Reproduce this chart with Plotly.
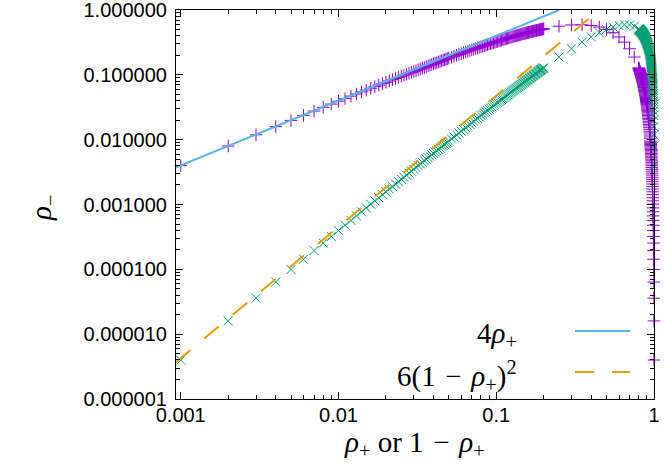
import plotly.graph_objects as go

# rho_+ sampling near the two edges; near rho_+ = 1 the same grid is used for 1 - rho_+
edge_fine = [
    0.001, 0.002, 0.003, 0.004, 0.005, 0.006, 0.007, 0.008, 0.009, 0.010,
    0.011, 0.012, 0.013, 0.014, 0.015, 0.016, 0.017, 0.018, 0.019, 0.020,
    0.021, 0.022, 0.023, 0.024, 0.025, 0.026, 0.027, 0.028, 0.029, 0.030,
    0.031, 0.032, 0.033, 0.034, 0.035, 0.036, 0.037, 0.038, 0.039, 0.040,
    0.041, 0.042, 0.043, 0.044, 0.045, 0.046, 0.047, 0.048, 0.049, 0.050,
]
edge_coarse = [
    0.052, 0.054, 0.056, 0.058, 0.060, 0.062, 0.064, 0.066, 0.068, 0.070,
    0.072, 0.074, 0.076, 0.078, 0.080, 0.082, 0.084, 0.086, 0.088, 0.090,
    0.092, 0.094, 0.096, 0.098, 0.100,
    0.102, 0.104, 0.106, 0.108, 0.110, 0.112, 0.114, 0.116, 0.118, 0.120,
    0.122, 0.124, 0.126, 0.128, 0.130, 0.132, 0.134, 0.136, 0.138, 0.140,
    0.142, 0.144, 0.146, 0.148, 0.150, 0.152, 0.154, 0.156, 0.158, 0.160,
    0.162, 0.164, 0.166, 0.168, 0.170, 0.172, 0.174, 0.176, 0.178, 0.180,
    0.182, 0.184, 0.186, 0.188, 0.190, 0.192, 0.194, 0.196, 0.198, 0.200,
]

# rho_- for small rho_+ (rho_+ = edge grid)
rho_minus_low = [
    0.00399, 0.00797, 0.0119, 0.0159, 0.0198, 0.0237, 0.0276, 0.0315, 0.0354, 0.0392,
    0.0430, 0.0469, 0.0507, 0.0545, 0.0582, 0.0620, 0.0657, 0.0694, 0.0731, 0.0768,
    0.0805, 0.0842, 0.0878, 0.0914, 0.0951, 0.0987, 0.102, 0.106, 0.109, 0.113,
    0.116, 0.120, 0.123, 0.127, 0.130, 0.134, 0.137, 0.141, 0.144, 0.148,
    0.151, 0.154, 0.158, 0.161, 0.164, 0.168, 0.171, 0.174, 0.177, 0.181,
    0.187, 0.193, 0.200, 0.206, 0.212, 0.218, 0.224, 0.230, 0.236, 0.242,
    0.248, 0.254, 0.260, 0.265, 0.271, 0.276, 0.282, 0.287, 0.293, 0.298,
    0.303, 0.309, 0.314, 0.319, 0.324,
    0.329, 0.334, 0.339, 0.344, 0.349, 0.353, 0.358, 0.363, 0.367, 0.372,
    0.376, 0.381, 0.385, 0.389, 0.394, 0.398, 0.402, 0.406, 0.410, 0.414,
    0.418, 0.422, 0.426, 0.430, 0.434, 0.437, 0.441, 0.445, 0.448, 0.452,
    0.455, 0.458, 0.462, 0.465, 0.469, 0.472, 0.475, 0.478, 0.481, 0.484,
    0.487, 0.490, 0.493, 0.496, 0.499, 0.501, 0.504, 0.507, 0.509, 0.512,
]

# coarse middle part
rho_plus_mid = [0.25, 0.30, 0.35, 0.40, 0.45, 0.50, 0.55, 0.60, 0.65, 0.70, 0.75]
rho_minus_mid = [0.562, 0.588, 0.592, 0.576, 0.545, 0.500, 0.446, 0.384, 0.319, 0.252, 0.188]

# rho_- for rho_+ close to 1 (1 - rho_+ = edge grid)
rho_minus_high = [
    3.99e-6, 1.60e-5, 3.59e-5, 6.37e-5, 9.95e-5, 1.43e-4, 1.95e-4, 2.54e-4, 3.21e-4, 3.96e-4,
    4.79e-4, 5.69e-4, 6.67e-4, 7.73e-4, 8.87e-4, 1.01e-3, 1.14e-3, 1.27e-3, 1.42e-3, 1.57e-3,
    1.73e-3, 1.89e-3, 2.07e-3, 2.25e-3, 2.44e-3, 2.63e-3, 2.84e-3, 3.05e-3, 3.27e-3, 3.49e-3,
    3.73e-3, 3.97e-3, 4.21e-3, 4.47e-3, 4.73e-3, 5.00e-3, 5.27e-3, 5.56e-3, 5.85e-3, 6.14e-3,
    6.45e-3, 6.76e-3, 7.08e-3, 7.40e-3, 7.74e-3, 8.08e-3, 8.42e-3, 8.77e-3, 9.13e-3, 9.50e-3,
    1.03e-2, 1.10e-2, 1.18e-2, 1.27e-2, 1.35e-2, 1.44e-2, 1.53e-2, 1.63e-2, 1.72e-2, 1.82e-2,
    1.92e-2, 2.03e-2, 2.13e-2, 2.24e-2, 2.36e-2, 2.47e-2, 2.59e-2, 2.70e-2, 2.83e-2, 2.95e-2,
    3.07e-2, 3.20e-2, 3.33e-2, 3.47e-2, 3.60e-2,
    3.74e-2, 3.88e-2, 4.02e-2, 4.16e-2, 4.31e-2, 4.46e-2, 4.61e-2, 4.76e-2, 4.91e-2, 5.07e-2,
    5.23e-2, 5.39e-2, 5.55e-2, 5.72e-2, 5.88e-2, 6.05e-2, 6.22e-2, 6.39e-2, 6.57e-2, 6.74e-2,
    6.92e-2, 7.10e-2, 7.28e-2, 7.47e-2, 7.65e-2, 7.84e-2, 8.03e-2, 8.22e-2, 8.41e-2, 8.60e-2,
    8.80e-2, 8.99e-2, 9.19e-2, 9.39e-2, 9.60e-2, 9.80e-2, 0.100, 0.102, 0.104, 0.106,
    0.108, 0.111, 0.113, 0.115, 0.117, 0.119, 0.121, 0.124, 0.126, 0.128,
]

# guide lines (end points)
lin_x = [0.00093, 0.25]
lin_y = [0.00372, 1.0]
quad_x = [0.00093, 0.45]
quad_y = [3.7e-6, 1.0]

y_ticks = [1e-6, 1e-5, 1e-4, 1e-3, 1e-2, 1e-1, 1]
y_ticktext = ["0.000001", "0.000010", "0.000100", "0.001000", "0.010000", "0.100000", "1.000000"]
x_ticks = [0.001, 0.01, 0.1, 1]
x_ticktext = ["0.001", "0.01", "0.1", "1"]

edge_grid = edge_fine + edge_coarse
rho_plus = edge_grid + rho_plus_mid + [1 - g for g in edge_grid]
rho_minus = rho_minus_low + rho_minus_mid + rho_minus_high
one_minus = [1 - r for r in rho_plus]

W, H = 664, 465
L, R, T, B = 176, 654, 10, 399


def px(x):
    return (x - L) / (R - L)


def py(y):
    return (B - y) / (B - T)


PURPLE = "#9400d3"
GREEN = "#009e73"
BLUE = "#56b4e9"
ORANGE = "#e69f00"
DASH = "19px,18px"
SP = "\u2004"  # math-like spacing around the minus sign

fig = go.Figure()

fig.add_trace(go.Scatter(
    x=rho_plus, y=rho_minus, mode="markers", cliponaxis=False,
    marker=dict(symbol="cross-thin", size=9, line=dict(width=1, color=PURPLE), color=PURPLE),
    showlegend=False,
))
fig.add_trace(go.Scatter(
    x=one_minus, y=rho_minus, mode="markers", cliponaxis=False,
    marker=dict(symbol="x-thin", size=9, line=dict(width=1, color=GREEN), color=GREEN),
    showlegend=False,
))
fig.add_trace(go.Scatter(
    x=lin_x, y=lin_y, mode="lines", line=dict(color=BLUE, width=2), showlegend=False,
))
fig.add_trace(go.Scatter(
    x=quad_x, y=quad_y, mode="lines", line=dict(color=ORANGE, width=2, dash=DASH),
    showlegend=False,
))

serif = dict(family="Liberation Serif, DejaVu Serif, serif", size=29, color="black")

annotations = [
    dict(x=px(519), y=py(335), text="4<i>ρ</i><sub>+</sub>", xanchor="right", yanchor="middle"),
    dict(x=px(519), y=py(376), text=f"6(1{SP}−{SP}<i>ρ</i><sub>+</sub>)<sup>2</sup>",
         xanchor="right", yanchor="middle"),
    dict(x=px(414), y=py(444), text=f"<i>ρ</i><sub>+</sub> or 1{SP}−{SP}<i>ρ</i><sub>+</sub>",
         xanchor="center", yanchor="middle"),
    dict(x=px(43), y=py(208), text="<i>ρ</i><sub>−</sub>", textangle=-90, xanchor="center", yanchor="middle"),
]
for a in annotations:
    a.update(xref="paper", yref="paper", showarrow=False, font=serif)

shapes = [
    dict(type="line", xref="paper", yref="paper", x0=px(575), x1=px(630), y0=py(331), y1=py(331),
         line=dict(color=BLUE, width=2)),
    dict(type="line", xref="paper", yref="paper", x0=px(575), x1=px(630), y0=py(372), y1=py(372),
         line=dict(color=ORANGE, width=2, dash=DASH)),
]

axis_common = dict(
    type="log", showgrid=False, zeroline=False, showline=True, linecolor="black", linewidth=1.2,
    mirror="allticks", ticks="inside", ticklen=7, tickcolor="black", tickwidth=1, automargin=False,
    ticklabeloverflow="allow",
    tickfont=dict(family="Liberation Sans, Arial, sans-serif", size=20, color="black"),
    minor=dict(ticks="inside", ticklen=4, tickcolor="black", tickwidth=1, dtick="D1", showgrid=False),
)

fig.update_layout(
    width=W, height=H,
    margin=dict(l=L, r=W - R, t=T, b=H - B, autoexpand=False),
    paper_bgcolor="white", plot_bgcolor="white",
    xaxis=dict(range=[-3.03, 0], tickmode="array", tickvals=x_ticks, ticktext=x_ticktext,
               ticklabelstandoff=-2, **axis_common),
    yaxis=dict(range=[-6, 0], tickmode="array", tickvals=y_ticks, ticktext=y_ticktext,
               ticklabelstandoff=4, **axis_common),
    annotations=annotations,
    shapes=shapes,
)

# the page body has a default margin; drop it so the figure sits at the window corner
fig.write_html("out.html", config={"displayModeBar": False},
               post_script="document.body.style.margin='0';")
